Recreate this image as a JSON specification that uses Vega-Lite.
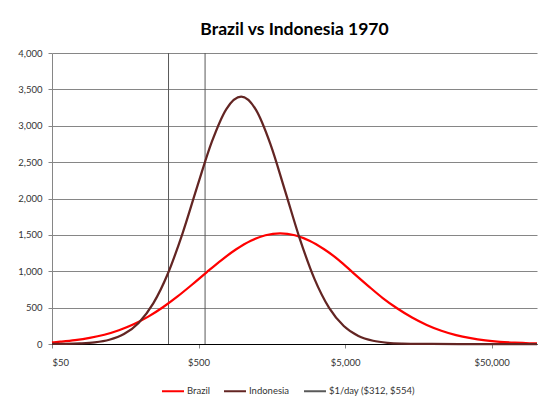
{
  "$schema": "https://vega.github.io/schema/vega-lite/v6.json",
  "autosize": {"type": "none"},
  "padding": {"left": 52, "top": 53, "right": 23, "bottom": 58},
  "width": 485,
  "height": 291,
  "background": "white",
  "title": {
    "text": "Brazil vs Indonesia 1970",
    "font": "Lato",
    "fontSize": 17.5,
    "fontWeight": "bold",
    "color": "#000000",
    "offset": 10
  },
  "config": {
    "view": {"stroke": null},
    "axis": {"labelFont": "Lato", "labelFontSize": 9.5, "labelColor": "#333333"},
    "legend": {"labelFont": "Lato", "labelFontSize": 9.5, "labelColor": "#333333"}
  },
  "datasets": {
    "curves": [
      {"income": 50, "people": 21, "series": "Brazil"},
      {"income": 57, "people": 31, "series": "Brazil"},
      {"income": 71.8, "people": 52, "series": "Brazil"},
      {"income": 90.4, "people": 83, "series": "Brazil"},
      {"income": 113.8, "people": 127, "series": "Brazil"},
      {"income": 143.2, "people": 189, "series": "Brazil"},
      {"income": 180.3, "people": 271, "series": "Brazil"},
      {"income": 227, "people": 376, "series": "Brazil"},
      {"income": 285.7, "people": 505, "series": "Brazil"},
      {"income": 359.7, "people": 654, "series": "Brazil"},
      {"income": 452.9, "people": 818, "series": "Brazil"},
      {"income": 570.1, "people": 989, "series": "Brazil"},
      {"income": 717.7, "people": 1154, "series": "Brazil"},
      {"income": 903.6, "people": 1302, "series": "Brazil"},
      {"income": 1137.6, "people": 1420, "series": "Brazil"},
      {"income": 1432.1, "people": 1495, "series": "Brazil"},
      {"income": 1802.9, "people": 1521, "series": "Brazil"},
      {"income": 2269.7, "people": 1495, "series": "Brazil"},
      {"income": 2857.4, "people": 1420, "series": "Brazil"},
      {"income": 3597, "people": 1302, "series": "Brazil"},
      {"income": 4529, "people": 1154, "series": "Brazil"},
      {"income": 5701, "people": 975, "series": "Brazil"},
      {"income": 7177, "people": 800, "series": "Brazil"},
      {"income": 9036, "people": 632, "series": "Brazil"},
      {"income": 11376, "people": 488, "series": "Brazil"},
      {"income": 14321, "people": 364, "series": "Brazil"},
      {"income": 18029, "people": 262, "series": "Brazil"},
      {"income": 22697, "people": 182, "series": "Brazil"},
      {"income": 28574, "people": 122, "series": "Brazil"},
      {"income": 35973, "people": 80, "series": "Brazil"},
      {"income": 45287, "people": 50, "series": "Brazil"},
      {"income": 57010, "people": 30, "series": "Brazil"},
      {"income": 71775, "people": 18, "series": "Brazil"},
      {"income": 90360, "people": 10, "series": "Brazil"},
      {"income": 102000, "people": 8, "series": "Brazil"},
      {"income": 50, "people": 1, "series": "Indonesia"},
      {"income": 61.7, "people": 2.5, "series": "Indonesia"},
      {"income": 77.6, "people": 8, "series": "Indonesia"},
      {"income": 97.7, "people": 22, "series": "Indonesia"},
      {"income": 123, "people": 58, "series": "Indonesia"},
      {"income": 154.9, "people": 137, "series": "Indonesia"},
      {"income": 195, "people": 290, "series": "Indonesia"},
      {"income": 245.5, "people": 558, "series": "Indonesia"},
      {"income": 309, "people": 969, "series": "Indonesia"},
      {"income": 389, "people": 1522, "series": "Indonesia"},
      {"income": 489.7, "people": 2163, "series": "Indonesia"},
      {"income": 616.6, "people": 2781, "series": "Indonesia"},
      {"income": 776.2, "people": 3233, "series": "Indonesia"},
      {"income": 977.2, "people": 3399, "series": "Indonesia"},
      {"income": 1230, "people": 3222, "series": "Indonesia"},
      {"income": 1549, "people": 2745, "series": "Indonesia"},
      {"income": 1950, "people": 2102, "series": "Indonesia"},
      {"income": 2455, "people": 1446, "series": "Indonesia"},
      {"income": 3090, "people": 895, "series": "Indonesia"},
      {"income": 3890, "people": 497, "series": "Indonesia"},
      {"income": 4898, "people": 248, "series": "Indonesia"},
      {"income": 6166, "people": 111, "series": "Indonesia"},
      {"income": 7762, "people": 45, "series": "Indonesia"},
      {"income": 9772, "people": 16, "series": "Indonesia"},
      {"income": 12302, "people": 5, "series": "Indonesia"},
      {"income": 15487, "people": 1.6, "series": "Indonesia"},
      {"income": 19497, "people": 0.4, "series": "Indonesia"},
      {"income": 30000, "people": 0, "series": "Indonesia"},
      {"income": 102000, "people": 0, "series": "Indonesia"}
    ],
    "povertyLines": [
      {"income": 312, "series": "$1/day ($312, $554)"},
      {"income": 554, "series": "$1/day ($312, $554)"}
    ]
  },
  "layer": [
    {
      "data": {"name": "povertyLines"},
      "mark": {"type": "rule", "strokeWidth": 1},
      "encoding": {
        "x": {"field": "income", "type": "quantitative"},
        "color": {"field": "series", "type": "nominal"}
      }
    },
    {
      "data": {"name": "curves"},
      "mark": {"type": "line", "interpolate": "monotone", "strokeWidth": 2.25},
      "encoding": {
        "x": {
          "field": "income",
          "type": "quantitative",
          "scale": {"type": "log", "domain": [50, 102000], "nice": false},
          "axis": {
            "title": null,
            "values": [50, 500, 5000, 50000],
            "format": "$,.0f",
            "grid": false,
            "domainColor": "#000000",
            "tickColor": "#868686",
            "tickSize": 4,
            "labelPadding": 9
          }
        },
        "y": {
          "field": "people",
          "type": "quantitative",
          "scale": {"domain": [0, 4000], "nice": false},
          "axis": {
            "title": null,
            "values": [0, 500, 1000, 1500, 2000, 2500, 3000, 3500, 4000],
            "format": ",.0f",
            "gridColor": "#868686",
            "domainColor": "#868686",
            "tickColor": "#868686",
            "tickSize": 4,
            "labelPadding": 6
          }
        },
        "color": {
          "field": "series",
          "type": "nominal",
          "scale": {
            "domain": ["Brazil", "Indonesia", "$1/day ($312, $554)"],
            "range": ["#FF0000", "#632523", "#595959"]
          },
          "legend": {
            "title": null,
            "orient": "none",
            "legendX": 109,
            "legendY": 326,
            "direction": "horizontal",
            "symbolType": "stroke",
            "symbolSize": 484,
            "symbolStrokeWidth": 2,
            "columnPadding": 10,
            "labelOffset": 2
          }
        }
      }
    }
  ]
}
